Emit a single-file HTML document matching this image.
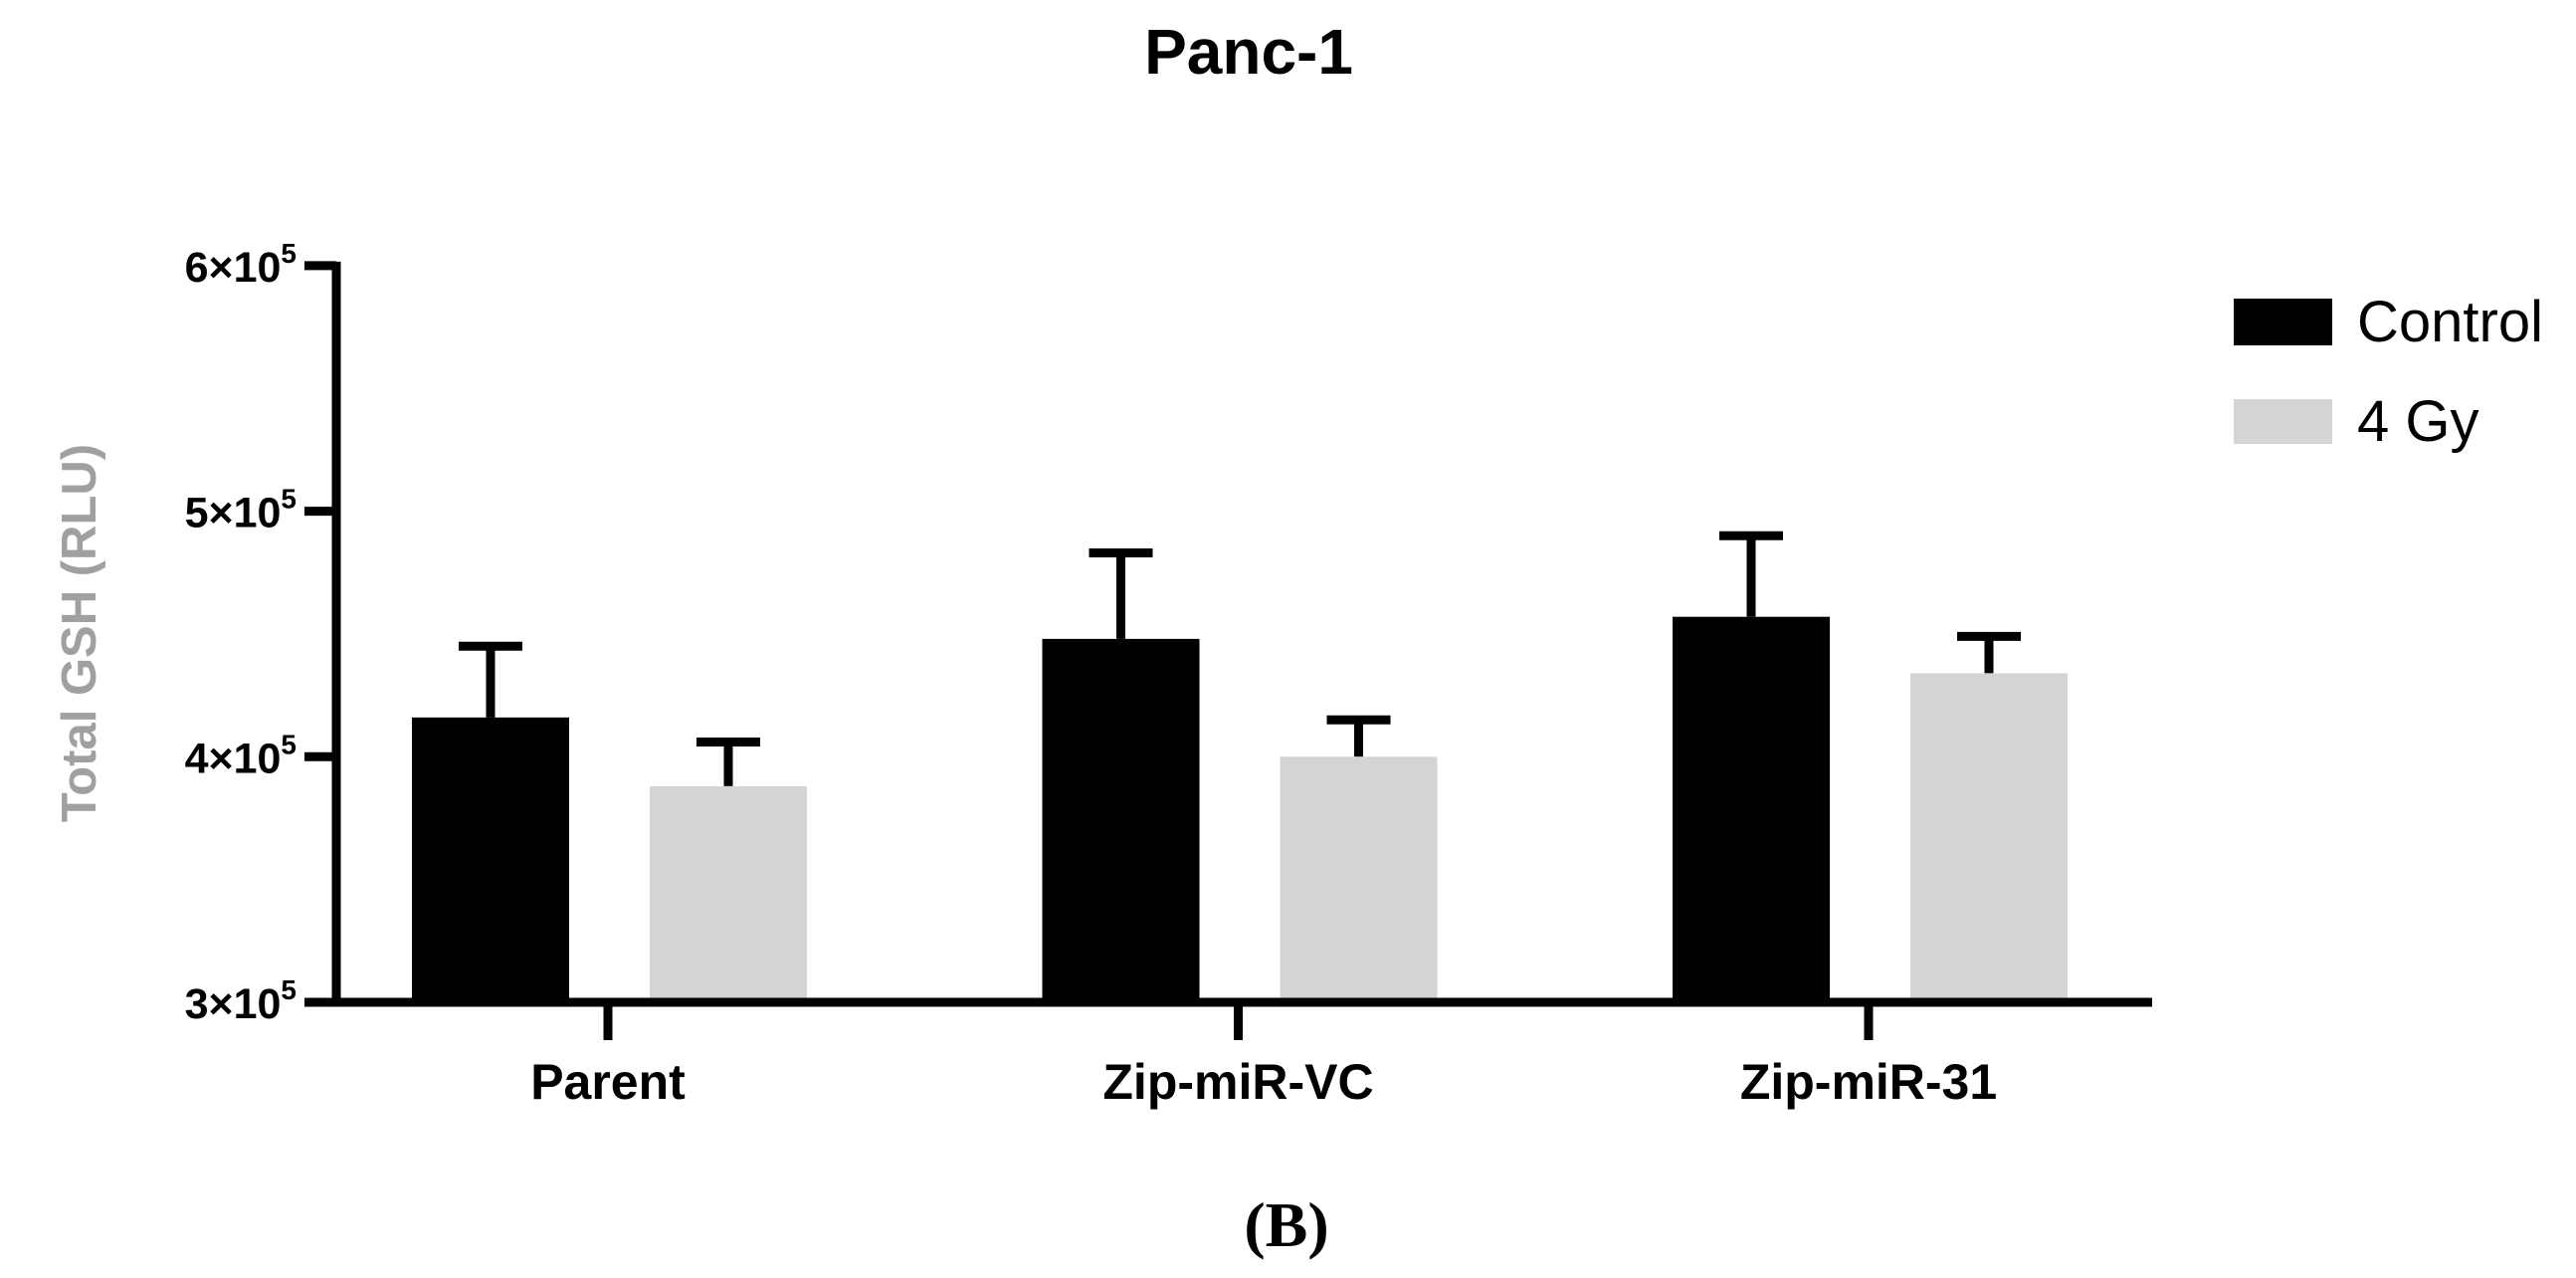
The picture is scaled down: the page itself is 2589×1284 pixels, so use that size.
<!DOCTYPE html>
<html><head><meta charset="utf-8"><style>
html,body{margin:0;padding:0;background:#fff;}
svg{display:block;font-family:"Liberation Sans",Arial,sans-serif;}
</style></head><body>
<svg id="chart" width="2589" height="1284" viewBox="0 0 2589 1284" xmlns="http://www.w3.org/2000/svg">
<text x="1255" y="74" font-size="64" font-weight="bold" text-anchor="middle">Panc-1</text>
<text transform="translate(96,636) rotate(-90)" font-size="49" font-weight="bold" fill="#a0a0a0" text-anchor="middle">Total GSH (RLU)</text>
<g id="plot"></g>
<g>
<rect x="2245" y="300" width="99" height="47" fill="#000"/>
<text x="2369" y="343" font-size="58">Control</text>
<rect x="2245" y="401" width="99" height="45" fill="#d4d4d4"/>
<text x="2369" y="443" font-size="58">4 Gy</text>
</g>
<text x="1293" y="1252" font-size="64" font-weight="bold" text-anchor="middle" font-family="Liberation Serif,serif">(B)</text>
</svg>
<script>
const categories = ["Parent","Zip-miR-VC","Zip-miR-31"];
const controlValues = [4.16, 4.48, 4.57];
const controlErrors = [0.29, 0.35, 0.33];
const gyValues = [3.88, 4.00, 4.34];
const gyErrors = [0.18, 0.15, 0.15];
const yTicks = [3, 4, 5, 6];

const NS = "http://www.w3.org/2000/svg";
const g = document.getElementById("plot");
const y0 = 1007, perUnit = 246.7, yMin = 3;
function yScale(v){ return y0 - (v - yMin) * perUnit; }
function xCenter(i){ return 611 + 633.5 * i; }
const axisX = 338;
function mk(tag, attrs){ const e = document.createElementNS(NS, tag); for (const k in attrs) e.setAttribute(k, attrs[k]); g.appendChild(e); return e; }

categories.forEach((c, i) => {
  const cx = xCenter(i);
  [[controlValues, controlErrors, -118, "#000", "control"], [gyValues, gyErrors, 121, "#d4d4d4", "4gy"]].forEach(s => {
    const v = s[0][i], err = s[1][i], bx = cx + s[2], top = yScale(v), et = yScale(v + err);
    const ln = mk("line", {x1: bx, x2: bx, y1: top, y2: et, stroke: "#000", "stroke-width": 9});
    
    
    const cap = mk("line", {x1: bx - 32, x2: bx + 32, y1: et, y2: et, stroke: "#000", "stroke-width": 9});
    
    
    const r = mk("rect", {x: bx - 79, y: top, width: 158, height: y0 - top, fill: s[3]});
    
    
  });
  const t = mk("line", {x1: cx, x2: cx, y1: y0, y2: y0 + 38, stroke: "#000", "stroke-width": 9});
  
  
  const lb = mk("text", {x: cx, y: 1104, "font-size": 50, "font-weight": "bold", "text-anchor": "middle"});
  lb.textContent = c;
  
  
});

yTicks.forEach(v => {
  const y = yScale(v);
  const t = mk("line", {x1: axisX - 32, x2: axisX, y1: y, y2: y, stroke: "#000", "stroke-width": 9});
  
  
  const lb = mk("text", {x: 298, y: y + 16, "font-size": 43, "font-weight": "bold", "text-anchor": "end"});
  lb.textContent = v + "×10";
  const sup = document.createElementNS(NS, "tspan");
  sup.setAttribute("font-size", 28);
  sup.setAttribute("dy", -19);
  sup.textContent = "5";
  lb.appendChild(sup);
  
  
});

const ya = mk("line", {x1: axisX, x2: axisX, y1: yScale(6) - 4, y2: y0 + 4.5, stroke: "#000", "stroke-width": 9});


const xa = mk("line", {x1: axisX - 4.5, x2: 2163, y1: y0, y2: y0, stroke: "#000", "stroke-width": 9});


</script>
</body></html>
